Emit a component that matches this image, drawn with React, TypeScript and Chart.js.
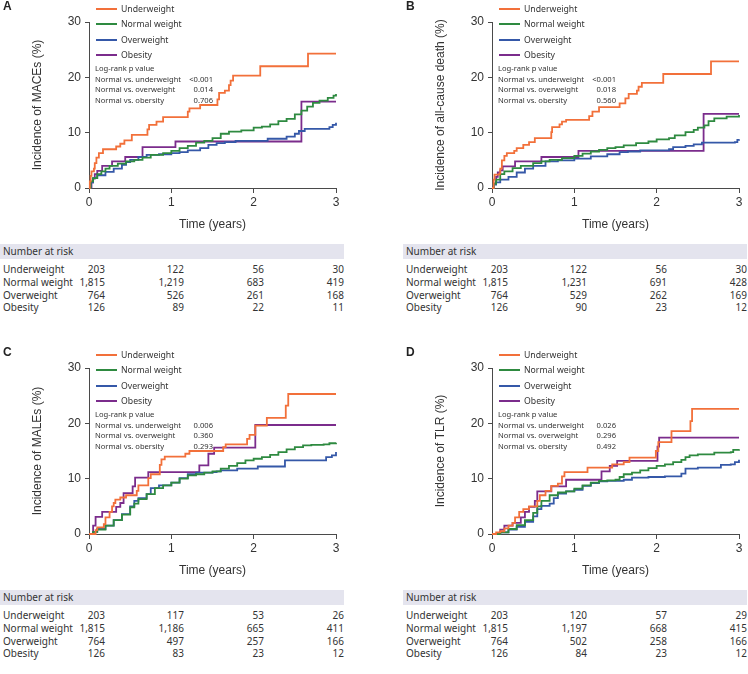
import React, { useEffect, useRef } from 'react';
import { Chart, registerables } from 'chart.js';
Chart.register(...registerables);

// ---------- data ----------
const groups = ['Underweight', 'Normal weight', 'Overweight', 'Obesity'];
const groupColors = ['#F2703A', '#2E8A40', '#3558A8', '#7B2C8C'];
const comparisons = ['Normal vs. underweight', 'Normal vs. overweight', 'Normal vs. obersity'];
const timeTicks = [0, 1, 2, 3];

// Panel A: MACEs  [time (years), cumulative incidence (%)]
const macesUnder = [[0,0],[0.01,1.2],[0.02,2.2],[0.03,3],[0.06,3.5],[0.07,4.5],[0.09,5.5],[0.12,6.3],[0.17,7],[0.33,7.5],[0.38,8],[0.43,8.6],[0.52,9.6],[0.71,10.6],[0.73,11.4],[0.82,12],[0.9,12.8],[1.2,13.8],[1.22,14.4],[1.35,15],[1.56,16],[1.58,17.2],[1.65,17.6],[1.7,18.6],[1.72,19.4],[1.75,20.3],[2.08,22],[2.66,24.3],[3,24.3]];
const macesNormal = [[0,0],[0.02,1.2],[0.05,1.8],[0.1,2.5],[0.15,3],[0.2,3.5],[0.25,4],[0.35,4.4],[0.45,4.8],[0.55,5.1],[0.65,5.5],[0.75,6],[0.9,6.3],[1.0,6.7],[1.1,7.2],[1.2,7.6],[1.3,8.2],[1.4,8.5],[1.5,9],[1.6,9.8],[1.7,10.2],[1.85,10.4],[2.0,10.9],[2.1,11.1],[2.2,11.5],[2.3,12.1],[2.4,12.5],[2.5,13.3],[2.58,14],[2.65,14.7],[2.72,15.4],[2.8,15.8],[2.9,16.3],[2.97,16.7],[3,17]];
const macesOver = [[0,0],[0.02,1],[0.05,1.8],[0.1,2.3],[0.2,2.9],[0.3,3.5],[0.4,4.2],[0.45,4.7],[0.5,5.1],[0.6,5.6],[0.7,6],[0.85,6.1],[1.0,6.3],[1.1,6.5],[1.2,6.8],[1.35,7.2],[1.45,7.8],[1.55,8.1],[1.65,8.3],[1.78,8.5],[2.17,8.9],[2.4,9.3],[2.5,9.8],[2.55,10.3],[2.62,10.7],[2.92,11],[2.96,11.4],[3,11.8]];
const macesObese = [[0,0],[0.03,1],[0.05,1.7],[0.07,2.5],[0.1,3.1],[0.16,4],[0.28,4.8],[0.44,5.6],[0.65,7.4],[1.05,8.4],[2.58,15.6],[3,15.6]];
const macesP = ['<0.001', '0.014', '0.706'];
const macesRisk = [[203,122,56,30],[1815,1219,683,419],[764,526,261,168],[126,89,22,11]];

// Panel B: all-cause death
const deathUnder = [[0,0],[0.02,1.5],[0.03,2.4],[0.09,2.6],[0.1,3.5],[0.12,5],[0.15,5.8],[0.18,6.3],[0.27,6.7],[0.3,7.2],[0.38,7.8],[0.45,8.3],[0.52,9],[0.72,10.1],[0.73,11],[0.82,11.5],[0.85,12],[0.9,12.3],[1.18,13],[1.22,13.8],[1.3,14.6],[1.55,15.3],[1.62,16.2],[1.66,17],[1.76,17.6],[1.78,18.3],[1.82,19],[2.08,20.6],[2.66,22.9],[3,22.9]];
const deathNormal = [[0,0],[0.02,0.8],[0.05,1.5],[0.1,2.5],[0.15,3],[0.25,3.6],[0.35,4],[0.5,4.5],[0.6,4.8],[0.7,5.1],[0.85,5.4],[1.0,5.8],[1.1,6.2],[1.2,6.6],[1.3,6.9],[1.4,7.2],[1.5,7.4],[1.6,7.7],[1.75,8.1],[1.9,8.4],[2.0,8.8],[2.15,9],[2.22,9.5],[2.35,10.1],[2.45,10.5],[2.5,10.9],[2.58,11.3],[2.63,12.1],[2.7,12.6],[2.85,12.9],[3,13.2]];
const deathOver = [[0,0],[0.02,0.6],[0.05,1],[0.1,1.5],[0.2,2],[0.3,2.8],[0.4,3.5],[0.5,4],[0.65,4.8],[0.8,5],[1.0,5.3],[1.2,5.7],[1.4,6.1],[1.55,6.5],[1.65,6.6],[1.8,6.8],[2.15,7],[2.2,7.4],[2.35,7.6],[2.45,7.9],[2.55,8.2],[2.95,8.3],[2.98,8.7],[3,8.8]];
const deathObese = [[0,0],[0.02,0.8],[0.05,2],[0.07,2.8],[0.1,3.2],[0.13,3.9],[0.28,4.8],[0.6,5.6],[1.05,6.7],[2.57,13.4],[3,13.4]];
const deathP = ['<0.001', '0.018', '0.560'];
const deathRisk = [[203,122,56,30],[1815,1231,691,428],[764,529,262,169],[126,90,23,12]];

// Panel C: MALEs
const malesUnder = [[0,0],[0.08,0.7],[0.1,1.2],[0.18,1.8],[0.2,3],[0.25,4],[0.28,5],[0.3,5.6],[0.32,6.2],[0.38,6.6],[0.45,7],[0.58,7.8],[0.6,8.8],[0.72,10.1],[0.75,10.8],[0.86,12.5],[0.88,13.5],[0.92,14],[1.17,14.5],[1.22,15],[1.63,15.7],[1.66,16.2],[1.92,17.2],[1.95,17.9],[2.02,19.6],[2.16,21],[2.39,23.2],[2.42,25.3],[3,25.3]];
const malesNormal = [[0,0],[0.05,0.4],[0.1,0.8],[0.2,1.5],[0.3,2.5],[0.4,3.5],[0.5,4.8],[0.55,5.5],[0.6,6.3],[0.7,7.2],[0.8,8.3],[0.9,8.8],[1.0,9.3],[1.1,10],[1.2,10.6],[1.3,10.8],[1.4,11.1],[1.5,11.3],[1.6,11.8],[1.7,12.3],[1.8,12.8],[1.9,13.3],[2.0,13.6],[2.1,13.9],[2.2,14.3],[2.3,14.8],[2.4,15.3],[2.5,15.7],[2.6,16],[2.7,16.1],[2.85,16.2],[2.92,16.4],[3,16.5]];
const malesOver = [[0,0],[0.05,0.4],[0.1,0.9],[0.2,1.5],[0.3,2.5],[0.4,3.6],[0.5,5],[0.55,6],[0.6,6.5],[0.7,7.2],[0.75,8.3],[0.85,8.8],[1.0,9.3],[1.1,10.1],[1.2,10.8],[1.3,11.1],[1.5,11.2],[1.55,11.3],[1.6,11.5],[1.8,11.8],[2.05,12.2],[2.38,13.3],[2.88,13.9],[2.95,14.2],[3,14.8]];
const malesObese = [[0,0],[0.05,1.5],[0.08,3.1],[0.16,4],[0.33,4.9],[0.38,5.6],[0.42,7.4],[0.53,8.6],[0.56,10.2],[0.72,11.2],[1.34,12.4],[1.45,14.5],[1.52,15.6],[2.02,19.7],[3,19.7]];
const malesP = ['0.006', '0.360', '0.293'];
const malesRisk = [[203,117,53,26],[1815,1186,665,411],[764,497,257,166],[126,83,23,12]];

// Panel D: TLR
const tlrUnder = [[0,0],[0.05,0.3],[0.1,0.5],[0.15,1],[0.2,1.5],[0.25,2],[0.28,3],[0.33,4],[0.38,4.5],[0.45,5],[0.55,6],[0.58,7],[0.65,7.8],[0.72,8.7],[0.8,9.1],[0.85,10.4],[0.88,11.2],[1.16,12],[1.46,12.6],[1.6,13],[1.67,13.8],[1.99,15],[2.02,16.6],[2.18,18.6],[2.41,20.4],[2.43,22.6],[3,22.6]];
const tlrNormal = [[0,0],[0.1,0.3],[0.2,0.9],[0.3,1.6],[0.4,2.5],[0.5,3.8],[0.55,5],[0.6,6],[0.7,7],[0.8,7.5],[0.9,7.7],[1.0,8.2],[1.1,8.8],[1.2,9.3],[1.3,9.6],[1.4,9.7],[1.5,9.8],[1.55,10.3],[1.6,10.8],[1.7,11.1],[1.8,11.5],[1.9,11.9],[2.0,12.3],[2.1,12.6],[2.2,13],[2.3,13.4],[2.35,13.9],[2.4,14.2],[2.5,14.4],[2.7,14.7],[2.9,14.8],[2.93,15.2],[3,15.3]];
const tlrOver = [[0,0],[0.1,0.3],[0.2,0.8],[0.3,1.3],[0.4,2.2],[0.5,3.2],[0.55,4.5],[0.6,5.1],[0.7,5.5],[0.75,6.5],[0.8,7.3],[0.9,7.7],[1.0,8],[1.1,8.7],[1.2,9.2],[1.3,9.5],[1.4,9.6],[1.6,9.8],[1.7,10.2],[1.9,10.3],[2.1,10.4],[2.3,10.9],[2.35,11.8],[2.5,12],[2.78,12.5],[2.9,12.6],[2.95,13],[3,13.4]];
const tlrObese = [[0,0],[0.1,0.8],[0.15,1.5],[0.25,2],[0.35,3],[0.4,4],[0.45,4.9],[0.52,6],[0.55,7.7],[0.72,8.6],[0.9,9.8],[1.33,11.3],[1.43,12.3],[1.52,13.2],[2.01,15.8],[2.03,17.4],[3,17.4]];
const tlrP = ['0.026', '0.296', '0.492'];
const tlrRisk = [[203,120,57,29],[1815,1197,668,415],[764,502,258,166],[126,84,23,12]];

// ---------- layout ----------
const PANEL_W = 345;
const CANVAS_H = 236;
const AXIS_FONT = '"Liberation Sans", Arial, Helvetica, sans-serif';
const TEXT_FONT = '"Noto Sans", "Open Sans", sans-serif';
const AXIS_COLOR = '#4a4a4a';
const riskCols = [105, 184, 264, 344];
const riskRows = [269, 282, 294.5, 307];

const panels = [
  { letter: 'A', dx: 0, dy: 0, yTitle: 'Incidence of MACEs (%)', series: [macesUnder, macesNormal, macesOver, macesObese], p: macesP, risk: macesRisk },
  { letter: 'B', dx: 403, dy: 0, yTitle: 'Incidence of all-cause death (%)', series: [deathUnder, deathNormal, deathOver, deathObese], p: deathP, risk: deathRisk },
  { letter: 'C', dx: 0, dy: 346, yTitle: 'Incidence of MALEs (%)', series: [malesUnder, malesNormal, malesOver, malesObese], p: malesP, risk: malesRisk },
  { letter: 'D', dx: 403, dy: 346, yTitle: 'Incidence of TLR (%)', series: [tlrUnder, tlrNormal, tlrOver, tlrObese], p: tlrP, risk: tlrRisk },
];

function KMChart({ series, yTitle }: { series: number[][][]; yTitle: string }) {
  const ref = useRef<HTMLCanvasElement | null>(null);
  useEffect(() => {
    if (!ref.current) return;
    const tickFont = { family: AXIS_FONT, size: 12 };
    const chart = new Chart(ref.current, {
      type: 'line',
      data: {
        datasets: groups.map((g, i) => ({
          label: g,
          data: series[i].map(([x, y]) => ({ x, y })),
          borderColor: groupColors[i],
          backgroundColor: groupColors[i],
          borderWidth: 1.8,
          stepped: 'before' as const,
          pointRadius: 0,
          fill: false,
          clip: 3,
        })),
      },
      options: {
        animation: false,
        responsive: false,
        maintainAspectRatio: false,
        layout: { padding: { top: 22, right: PANEL_W - 336, left: 0, bottom: 0 } },
        plugins: { legend: { display: false }, tooltip: { enabled: false } },
        scales: {
          x: {
            type: 'linear',
            min: 0,
            max: 3,
            afterBuildTicks: (s: any) => { s.ticks = timeTicks.map((v) => ({ value: v })); },
            ticks: { font: tickFont, color: '#333', padding: 2 },
            grid: { drawOnChartArea: false, tickLength: 5, color: AXIS_COLOR, lineWidth: 1 },
            border: { color: AXIS_COLOR, width: 1 },
            title: { display: true, text: 'Time (years)', font: tickFont, color: '#333', padding: { top: 0, bottom: 4 } },
            afterFit: (s: any) => { s.height = 48; },
          },
          y: {
            type: 'linear',
            min: 0,
            max: 30,
            ticks: { stepSize: 10, font: tickFont, color: '#333', padding: 4 },
            grid: { drawOnChartArea: false, tickLength: 4, color: AXIS_COLOR, lineWidth: 1 },
            border: { color: AXIS_COLOR, width: 1 },
            title: { display: true, text: yTitle, font: tickFont, color: '#333', padding: { top: 30, bottom: 0 } },
            afterFit: (s: any) => { s.width = 89; },
          },
        },
      } as any,
    });
    return () => chart.destroy();
  }, [series, yTitle]);
  return <canvas ref={ref} width={PANEL_W} height={CANVAS_H} style={{ position: 'absolute', left: 0, top: 0, width: PANEL_W, height: CANVAS_H }} />;
}

const fmt = (n: number) => n.toLocaleString('en-US');

function Panel({ letter, dx, dy, yTitle, series, p, risk }: any) {
  return (
    <div style={{ position: 'absolute', left: dx, top: dy, width: PANEL_W, height: 320 }}>
      <KMChart series={series} yTitle={yTitle} />
      <div style={{ position: 'absolute', left: 3, top: -1, font: `bold 12px ${AXIS_FONT}`, color: '#222', lineHeight: '14px' }}>{letter}</div>
      {groups.map((g, i) => (
        <div key={g} style={{ position: 'absolute', left: 96, top: 9 + i * 15.4 - 7, height: 14, display: 'flex', alignItems: 'center' }}>
          <div style={{ width: 21, height: 2, background: groupColors[i] }} />
          <span style={{ marginLeft: 4, font: `8.7px ${TEXT_FONT}`, color: '#333', whiteSpace: 'nowrap' }}>{g}</span>
        </div>
      ))}
      <div style={{ position: 'absolute', left: 95, top: 68.3 - 6, font: `7.6px ${TEXT_FONT}`, color: '#333', lineHeight: '12px', whiteSpace: 'nowrap' }}>Log-rank p value</div>
      {comparisons.map((c, i) => (
        <React.Fragment key={c}>
          <div style={{ position: 'absolute', left: 95, top: 79 + i * 10.4 - 6, font: `7.6px ${TEXT_FONT}`, color: '#333', lineHeight: '12px', whiteSpace: 'nowrap' }}>{c}</div>
          <div style={{ position: 'absolute', left: 150, width: 63, textAlign: 'right', top: 79 + i * 10.4 - 6, font: `7.6px ${TEXT_FONT}`, color: '#333', lineHeight: '12px', whiteSpace: 'nowrap' }}>{p[i]}</div>
        </React.Fragment>
      ))}
      <div style={{ position: 'absolute', left: 0, top: 244, width: 344, height: 15, background: '#E4E4EE' }} />
      <div style={{ position: 'absolute', left: 3, top: 244, font: `10px ${TEXT_FONT}`, color: '#333', lineHeight: '15px', whiteSpace: 'nowrap' }}>Number at risk</div>
      {groups.map((g, r) => (
        <React.Fragment key={g}>
          <div style={{ position: 'absolute', left: 3, top: riskRows[r] - 7, font: `10px ${TEXT_FONT}`, color: '#333', lineHeight: '14px', whiteSpace: 'nowrap' }}>{g}</div>
          {risk[r].map((v: number, c: number) => (
            <div key={c} style={{ position: 'absolute', left: riskCols[c] - 60, width: 60, textAlign: 'right', top: riskRows[r] - 7, font: `10px ${TEXT_FONT}`, color: '#333', lineHeight: '14px', whiteSpace: 'nowrap' }}>{fmt(v)}</div>
          ))}
        </React.Fragment>
      ))}
    </div>
  );
}

export default function App() {
  return (
    <div style={{ position: 'absolute', left: 0, top: 0, width: 748, height: 674, background: '#fff', overflow: 'hidden' }}>
      {panels.map((pn) => (
        <Panel key={pn.letter} {...pn} />
      ))}
    </div>
  );
}
